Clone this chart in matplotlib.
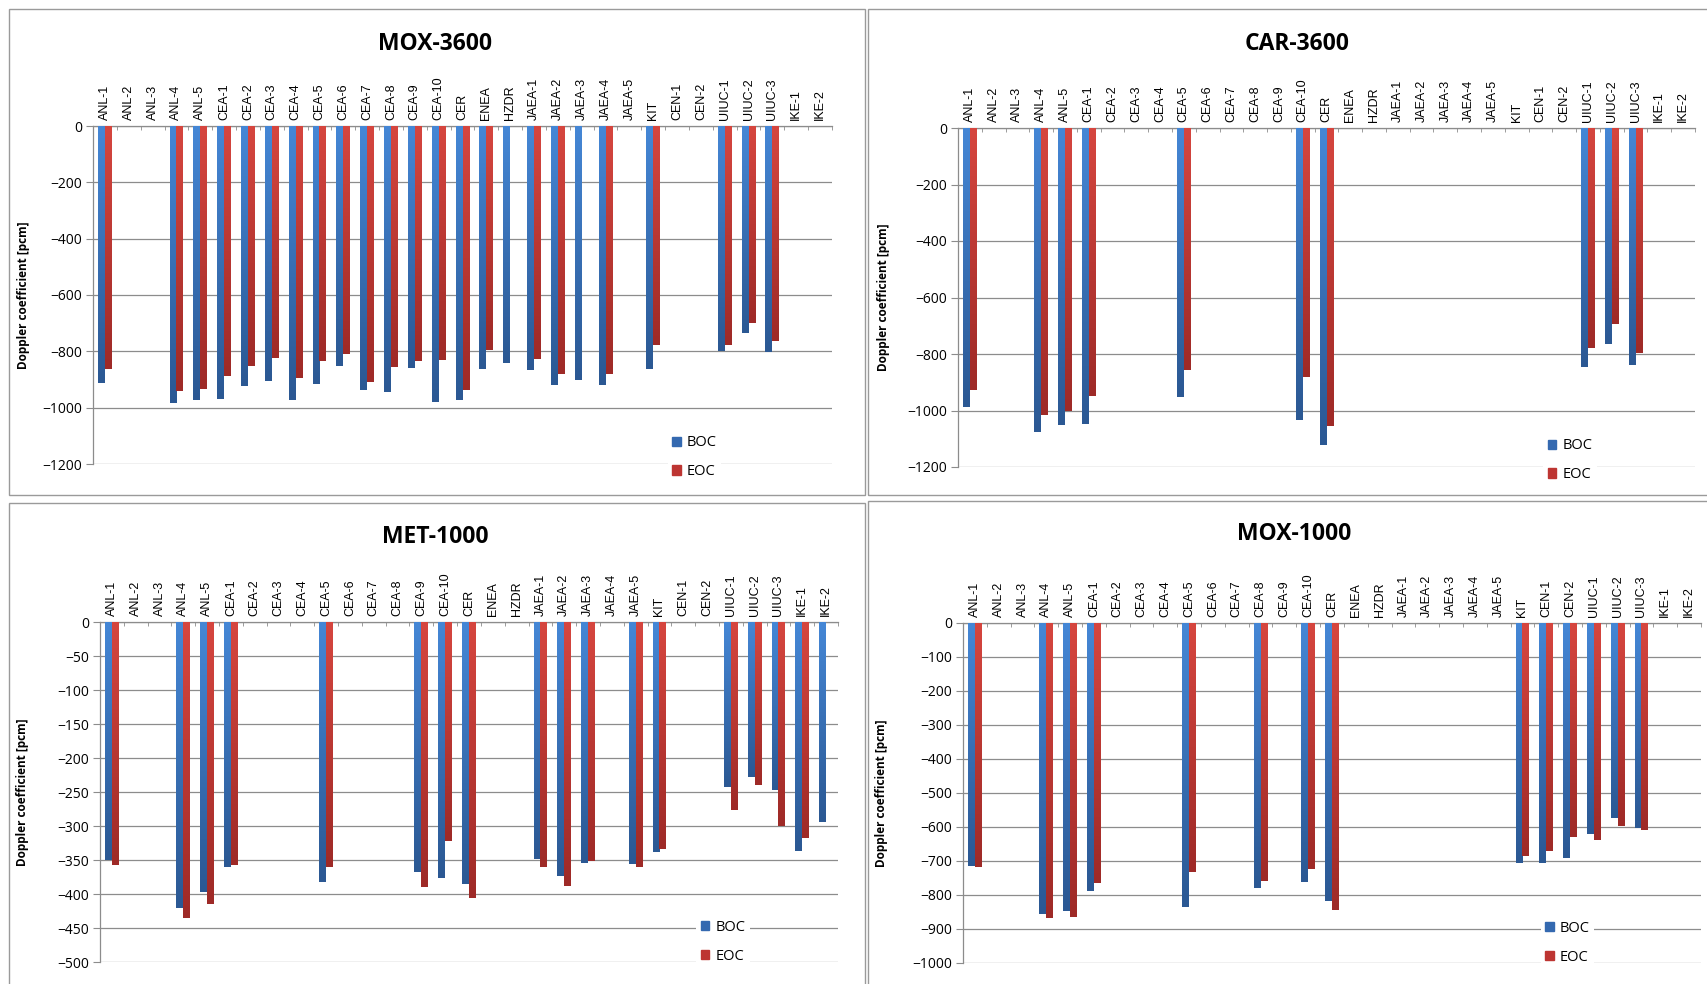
"""
Doppler coefficient benchmark - four Excel-style bar panels (BOC vs EOC)
"""

import numpy as np
import matplotlib.pyplot as plt
from matplotlib.colors import LinearSegmentedColormap
from matplotlib.patches import Rectangle, Patch

plt.rcParams["font.family"] = ["Liberation Sans", "DejaVu Sans"]
UI_FONT = ["Open Sans", "DejaVu Sans"]

nan = np.nan

# Categories (participants)
LABELS = ["ANL-1", "ANL-2", "ANL-3", "ANL-4", "ANL-5",
          "CEA-1", "CEA-2", "CEA-3", "CEA-4", "CEA-5", "CEA-6", "CEA-7", "CEA-8", "CEA-9", "CEA-10",
          "CER", "ENEA", "HZDR",
          "JAEA-1", "JAEA-2", "JAEA-3", "JAEA-4", "JAEA-5",
          "KIT", "CEN-1", "CEN-2", "UIUC-1", "UIUC-2", "UIUC-3", "IKE-1", "IKE-2"]

# MOX-3600
MOX3600_BOC = [-912, nan, nan, -983, -974, -968, -924, -907, -972, -916, -852, -936, -944, -859, -980,
               -974, -862, -841, -866, -919, -902, -919, nan, -862, nan, nan, -798, -735, -801, nan, nan]
MOX3600_EOC = [-862, nan, nan, -940, -933, -886, -852, -825, -893, -835, -808, -909, -855, -835, -832,
               -937, -795, nan, -828, -879, nan, -879, nan, -776, nan, nan, -776, -699, -764, nan, nan]

# CAR-3600
CAR3600_BOC = [-988, nan, nan, -1076, -1053, -1047, nan, nan, nan, -951, nan, nan, nan, nan, -1035,
               -1121, nan, nan, nan, nan, nan, nan, nan, nan, nan, nan, -845, -765, -839, nan, nan]
CAR3600_EOC = [-927, nan, nan, -1015, -1000, -947, nan, nan, nan, -856, nan, nan, nan, nan, -882,
               -1056, nan, nan, nan, nan, nan, nan, nan, nan, nan, nan, -780, -694, -796, nan, nan]

# MET-1000
MET1000_BOC = [-350, nan, nan, -420, -397, -361, nan, nan, nan, -383, nan, nan, nan, -368, -376,
               -385, nan, nan, -348, -374, -355, nan, -356, -338, nan, nan, -243, -228, -247, -337, -294]
MET1000_EOC = [-358, nan, nan, -435, -414, -357, nan, nan, nan, -361, nan, nan, nan, -389, -322,
               -406, nan, nan, -360, -388, -351, nan, -361, -334, nan, nan, -276, -240, -300, -317, nan]

# MOX-1000
MOX1000_BOC = [-716, nan, nan, -857, -848, -788, nan, nan, nan, -836, nan, nan, -780, nan, -763,
               -817, nan, nan, nan, nan, nan, nan, nan, -706, -706, -692, -620, -574, -604, nan, nan]
MOX1000_EOC = [-718, nan, nan, -869, -866, -766, nan, nan, nan, -732, nan, nan, -760, nan, -724,
               -843, nan, nan, nan, nan, nan, nan, nan, -686, -671, -630, -639, -598, -608, nan, nan]

W, H = 1707, 984
GRID = "#8c8c8c"
BLUE_TOP, BLUE_BOT = "#4587d6", "#2b5893"
RED_TOP, RED_BOT = "#d6463f", "#9e2a27"


def px_axes(fig, x0, y0, x1, y1):
    """Add axes from pixel box (top-left origin)"""
    return fig.add_axes([x0 / W, (H - y1) / H, (x1 - x0) / W, (y1 - y0) / H])


def gradient_bars(ax, bars, c_top, c_bot):
    """Overlay a vertical gradient on each bar, Excel style"""
    cmap = LinearSegmentedColormap.from_list("g", [c_top, c_bot])
    grad = np.linspace(0, 1, 128).reshape(-1, 1)
    for b in bars:
        h = b.get_height()
        if np.isnan(h) or h == 0:
            continue
        x0, w = b.get_x(), b.get_width()
        ax.imshow(grad, cmap=cmap, extent=[x0, x0 + w, h, 0], aspect="auto",
                  origin="upper", interpolation="bilinear", zorder=3)


def draw_panel(ax, boc, eoc, ymin, step, leg_x, leg_y):
    x = np.arange(len(LABELS))
    bw = 0.29
    b1 = ax.bar(x - bw / 2, boc, bw, color=BLUE_BOT, zorder=2, label="BOC")
    b2 = ax.bar(x + bw / 2, eoc, bw, color=RED_BOT, zorder=2, label="EOC")
    gradient_bars(ax, b1, BLUE_TOP, BLUE_BOT)
    gradient_bars(ax, b2, RED_TOP, RED_BOT)

    ax.set_xlim(-0.5, len(LABELS) - 0.5)
    ax.set_ylim(ymin, 0)
    ax.set_yticks(np.arange(ymin, 1, step))
    ax.yaxis.grid(True, color=GRID, lw=0.9)
    ax.set_axisbelow(True)

    ax.xaxis.tick_top()
    ax.set_xticks(x)
    ax.set_xticklabels(LABELS, rotation=90, fontsize=9)
    ax.set_xticks(np.arange(-0.5, len(LABELS)), minor=True)
    ax.tick_params(axis="x", which="major", length=0, pad=4)
    ax.tick_params(axis="x", which="minor", direction="in", length=3, color=GRID)
    ax.tick_params(axis="y", length=5, color=GRID, labelsize=10, pad=3)
    for t in ax.get_yticklabels():
        t.set_family(UI_FONT)

    for s in ["right", "bottom"]:
        ax.spines[s].set_visible(False)
    for s in ["left", "top"]:
        ax.spines[s].set_color(GRID)
        ax.spines[s].set_linewidth(0.9)

    ax.set_ylabel("Doppler coefficient [pcm]", fontsize=8.5, fontweight="bold", family=UI_FONT)

    handles = [Patch(color="#3469b0", label="BOC"), Patch(color="#bd3532", label="EOC")]
    leg = ax.legend(handles=handles, loc="center left", bbox_to_anchor=(leg_x, leg_y),
                    prop={"family": UI_FONT, "size": 10.5}, frameon=True,
                    handlelength=0.6, handleheight=0.6,
                    handletextpad=0.4, labelspacing=0.95, borderpad=0.3,
                    borderaxespad=0)
    leg.get_frame().set_facecolor("white")
    leg.get_frame().set_edgecolor("none")
    leg.get_frame().set_alpha(1)


fig = plt.figure(figsize=(W / 100, H / 100), dpi=100)

# panel borders
for (x0, y0, x1, y1) in [(9, 9, 865, 495), (868, 9, 1712, 495),
                         (9, 503, 865, 990), (868, 501, 1712, 990)]:
    fig.patches.append(Rectangle((x0 / W, (H - y1) / H), (x1 - x0) / W, (y1 - y0) / H,
                                 transform=fig.transFigure, fill=False,
                                 edgecolor="#9a9a9a", lw=1.0))

panels = [
    ("MOX-3600", (93, 126, 832, 464), MOX3600_BOC, MOX3600_EOC, -1200, 200, (435, 44), 30, 0.778, 0.02),
    ("CAR-3600", (958, 128, 1695, 467), CAR3600_BOC, CAR3600_EOC, -1200, 200, (1297, 44), 890, 0.794, 0.02),
    ("MET-1000", (100, 622, 838, 962), MET1000_BOC, MET1000_EOC, -500, 50, (435, 537), 29, 0.808, 0.06),
    ("MOX-1000", (963, 623, 1701, 963), MOX1000_BOC, MOX1000_EOC, -1000, 100, (1294, 534), 888, 0.783, 0.06),
]

for title, box, boc, eoc, ymin, step, tpos, ylab_x, lx, ly in panels:
    ax = px_axes(fig, *box)
    draw_panel(ax, boc, eoc, ymin, step, lx, ly)
    ax.yaxis.set_label_coords((ylab_x - box[0]) / (box[2] - box[0]), 0.5)
    fig.text(tpos[0] / W, 1 - tpos[1] / H, title, fontsize=16.5, fontweight="bold",
             family=UI_FONT, ha="center", va="center")

fig.savefig("out.png", dpi=100)
print("saved out.png")
